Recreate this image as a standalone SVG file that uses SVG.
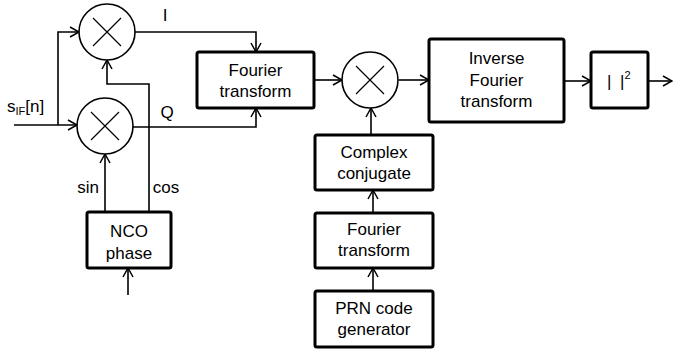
<svg xmlns="http://www.w3.org/2000/svg" width="673" height="350" viewBox="0 0 673 350">
<defs>
<marker id="arr" markerUnits="userSpaceOnUse" markerWidth="12" markerHeight="12" refX="10" refY="6" orient="auto" overflow="visible">
<path d="M1,1 L10,6 L1,11" fill="none" stroke="#000" stroke-width="1.5"/>
</marker>
</defs>
<style>
.box{fill:#fff;stroke:#000;stroke-width:3;}
.mix{fill:#fff;stroke:#000;stroke-width:1.6;}
.x{stroke:#000;stroke-width:1.2;fill:none;}
.ln{fill:none;stroke:#000;stroke-width:1.6;}
.t{font-family:"Liberation Sans",Arial,sans-serif;font-size:17px;fill:#000;text-anchor:middle;}
.s{font-family:"Liberation Sans",Arial,sans-serif;font-size:17px;fill:#000;}
</style>
<rect width="673" height="350" fill="#fff"/>
<g id="connectors">
<polyline class="ln" points="14,125 77,125" marker-end="url(#arr)"/>
<polyline class="ln" points="58,125 58,32 79,32" marker-end="url(#arr)"/>
<polyline class="ln" points="135,32 256,32 256,52" marker-end="url(#arr)"/>
<polyline class="ln" points="133,127 256,127 256,108" marker-end="url(#arr)"/>
<polyline class="ln" points="149,212 149,84 107,84 107,60" marker-end="url(#arr)"/>
<polyline class="ln" points="105,212 105,154" marker-end="url(#arr)"/>
<polyline class="ln" points="128,295 128,268" marker-end="url(#arr)"/>
<polyline class="ln" points="314,80 342,80" marker-end="url(#arr)"/>
<polyline class="ln" points="399,80 429,80" marker-end="url(#arr)"/>
<polyline class="ln" points="371,135 371,108" marker-end="url(#arr)"/>
<polyline class="ln" points="373,213 373,190" marker-end="url(#arr)"/>
<polyline class="ln" points="373,291 373,268" marker-end="url(#arr)"/>
<polyline class="ln" points="564,81 591,81" marker-end="url(#arr)"/>
<polyline class="ln" points="648,81 672,81" marker-end="url(#arr)"/>
</g>
<g id="labels">
<text class="t" x="165" y="21">I</text>
<text class="t" x="167" y="118">Q</text>
<text class="t" x="88" y="193">sin</text>
<text class="t" x="166" y="193">cos</text>
<text class="s" x="7" y="112">s<tspan font-size="11" dy="3">IF</tspan><tspan dy="-3">[n]</tspan></text>
</g>
<g id="mixer1">
<circle class="mix" cx="107" cy="32" r="28"/>
<path class="x" d="M93,18 L121,46 M121,18 L93,46"/>
</g>
<g id="mixer2">
<circle class="mix" cx="105" cy="126" r="28"/>
<path class="x" d="M91,112 L119,140 M119,112 L91,140"/>
</g>
<g id="mixer3">
<circle class="mix" cx="370" cy="80" r="28"/>
<path class="x" d="M356,66 L384,94 M384,66 L356,94"/>
</g>
<g id="nco">
<rect class="box" x="87" y="212" width="84" height="56" rx="2"/>
<text class="t" x="129" y="237">NCO</text>
<text class="t" x="129" y="259">phase</text>
</g>
<g id="fourier1">
<rect class="box" x="197" y="52" width="117" height="56" rx="2"/>
<text class="t" x="255.5" y="76">Fourier</text>
<text class="t" x="255.5" y="97">transform</text>
</g>
<g id="conj">
<rect class="box" x="315" y="135" width="118" height="55" rx="2"/>
<text class="t" x="374" y="158">Complex</text>
<text class="t" x="374" y="179">conjugate</text>
</g>
<g id="fourier2">
<rect class="box" x="315" y="213" width="118" height="55" rx="2"/>
<text class="t" x="374" y="235">Fourier</text>
<text class="t" x="374" y="256">transform</text>
</g>
<g id="prn">
<rect class="box" x="315" y="291" width="118" height="56" rx="2"/>
<text class="t" x="374" y="314">PRN code</text>
<text class="t" x="374" y="335">generator</text>
</g>
<g id="ifft">
<rect class="box" x="429" y="39" width="135" height="83" rx="2"/>
<text class="t" x="496.5" y="64">Inverse</text>
<text class="t" x="496.5" y="86">Fourier</text>
<text class="t" x="496.5" y="107">transform</text>
</g>
<g id="mag">
<rect class="box" x="591" y="52" width="57" height="56" rx="2"/>
<text class="s" x="607" y="87">|</text>
<text class="s" x="620" y="87">|<tspan font-size="11" dy="-8">2</tspan></text>
</g>
</svg>
